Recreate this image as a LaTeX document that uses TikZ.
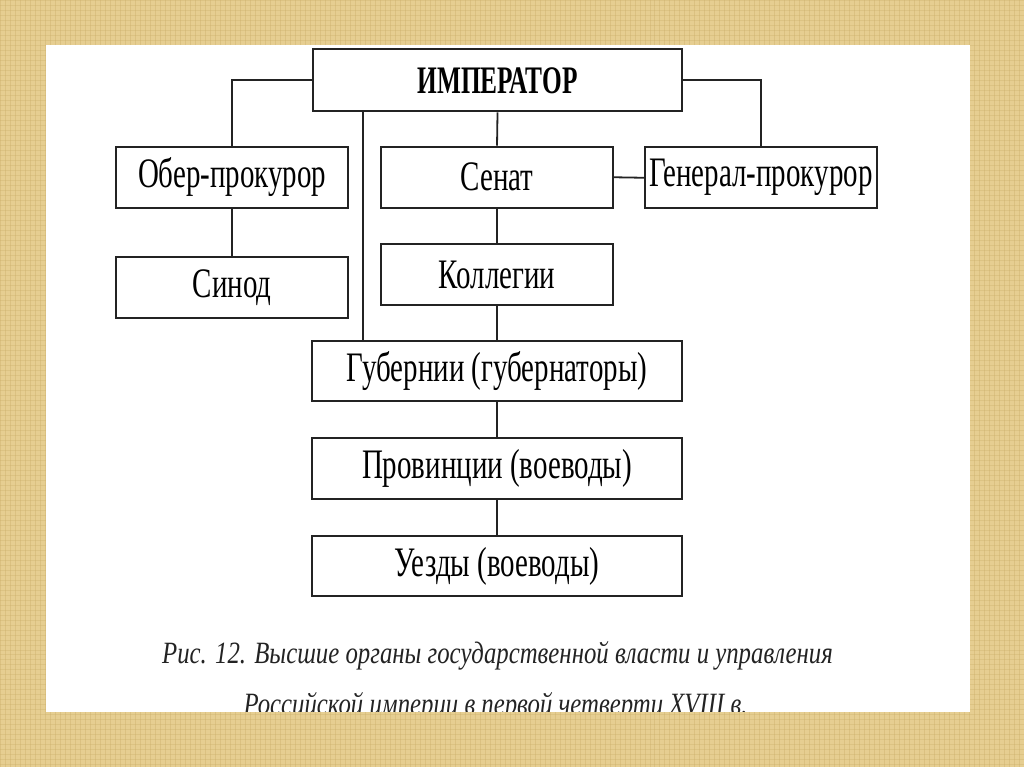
\documentclass[tikz,border=0pt]{standalone}
\usepackage{fontspec}
\setmainfont{Liberation Serif}
\usepackage{tikz}
\usetikzlibrary{positioning, calc}
\definecolor{burlap}{RGB}{230,206,145}
\definecolor{burlapdark}{RGB}{200,170,100}
\definecolor{inkgray}{RGB}{35,35,35}
\newcommand{\narrowtxt}[1]{\scalebox{0.69}[1]{#1}}
\newcommand{\capttxt}[1]{\scalebox{0.8}[1]{#1}}

\begin{document}
\begin{tikzpicture}[x=1pt, y=-1pt,
    organ/.style={draw=inkgray, line width=2.1pt, fill=white, inner sep=0pt,
        minimum width=232pt, minimum height=61pt, font=\fontsize{42}{45}\selectfont},
    wideorgan/.style={organ, minimum width=370pt},
    link/.style={draw=inkgray, line width=1.8pt}]
    % ---- backdrop and sheet
    \fill[burlap] (0,0) rectangle (1024,767);
    \foreach \x in {0,5,...,1024} \draw[burlapdark, opacity=0.35, line width=0.8pt] (\x,0) -- (\x,767);
    \foreach \y in {0,5,...,767} \draw[burlapdark, opacity=0.3, line width=0.8pt] (0,\y) -- (1024,\y);
    \fill[white] (46,45) rectangle (970,712);
    % ---- top level
    \node[wideorgan, minimum height=62pt, font=\fontsize{39}{42}\selectfont\bfseries] (imp) at (497.5,80) {\scalebox{0.65}[1]{ИМПЕРАТОР}};
    % ---- second row
    \node[organ] (ober) at (232,177) {\narrowtxt{Обер-прокурор}};
    \node[organ] (senat) at (497,177) {\narrowtxt{Сенат}};
    \node[organ] (genpro) at (761,177.5) {\narrowtxt{Генерал-прокурор}};
    % ---- third row
    \node[organ] (sinod) at (232,287.5) {\narrowtxt{Синод}};
    \node[organ] (koll) at (497,274.5) {\narrowtxt{Коллегии}};
    % ---- local government
    \node[wideorgan, minimum height=60pt] (gub) at (497,371) {\narrowtxt{Губернии (губернаторы)}};
    \node[wideorgan] (prov) at (497,468.5) {\narrowtxt{Провинции (воеводы)}};
    \node[wideorgan, minimum height=60pt] (uezd) at (497,566) {\narrowtxt{Уезды (воеводы)}};
    % ---- connectors
    \coordinate (stem) at (363,330);
    \draw[link] (imp.west) -| (ober.north);
    \draw[link] (imp.east) -| (genpro.north);
    \draw[link] (imp.south) -- (senat.north);
    \draw[link] (stem |- imp.south) -- (stem |- gub.north);
    \draw[link] (senat.east) -- (genpro.west);
    \draw[link] (ober.south) -- (sinod.north);
    \draw[link] (senat.south) -- (koll.north);
    \draw[link] (koll.south) -- (gub.north);
    \draw[link] (gub.south) -- (prov.north);
    \draw[link] (prov.south) -- (uezd.north);
    % ---- caption, cut off by the sheet edge
    \begin{scope}
        \clip (46,45) rectangle (970,712);
        \node[anchor=base, text=inkgray, inner sep=0pt, font=\fontsize{31}{34}\selectfont\itshape] (capa) at (497.5,664) {\capttxt{Рис. 12. Высшие органы государственной власти и управления}};
        \node[anchor=base, text=inkgray, inner sep=0pt, font=\fontsize{31}{34}\selectfont\itshape] (capb) at (495.5,715) {\capttxt{Российской империи в первой четверти XVIII в.}};
    \end{scope}
\end{tikzpicture}
\end{document}
